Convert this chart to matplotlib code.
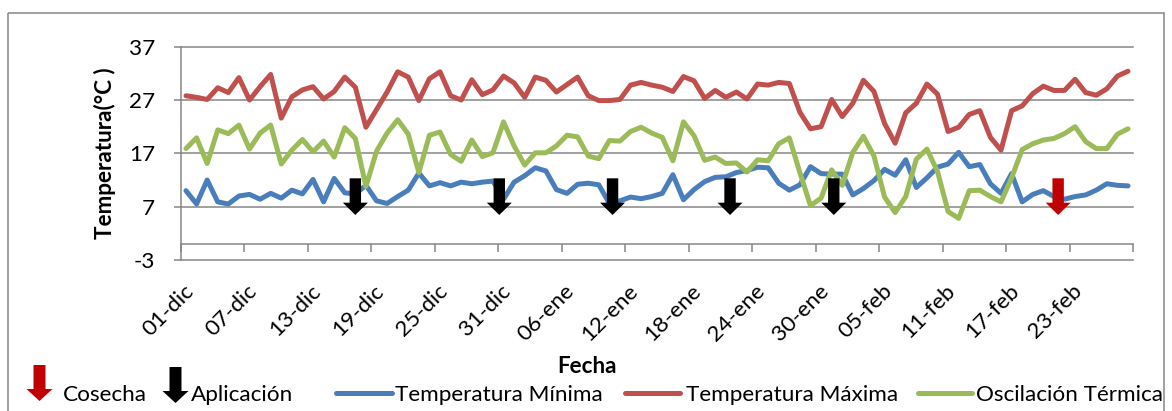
import matplotlib
matplotlib.use('Agg')
import matplotlib.pyplot as plt
from matplotlib.patches import Polygon, Rectangle
from matplotlib.transforms import blended_transform_factory
import pandas as pd

# --- data -------------------------------------------------------------
fechas = pd.date_range('2012-12-01', '2013-02-28', freq='D')
meses = {12: 'dic', 1: 'ene', 2: 'feb'}
etiquetas = [f"{d.day:02d}-{meses[d.month]}" for d in fechas]

temp_minima = [
    10.0, 7.5, 12.0, 7.9, 7.5, 9.0, 9.3, 8.4, 9.5, 8.6,
    10.1, 9.4, 12.1, 7.9, 12.3, 9.6, 9.4, 11.0, 8.1, 7.6,
    8.9, 10.1, 13.3, 10.9, 11.5, 10.9, 11.6, 11.3, 11.6, 11.8,
    8.4, 11.6, 12.8, 14.3, 13.7, 10.2, 9.5, 11.2, 11.4, 11.1,
    7.6, 8.1, 8.8, 8.5, 8.9, 9.5, 13.0, 8.3, 10.2, 11.7,
    12.5, 12.6, 13.4, 13.8, 14.4, 14.3, 11.4, 10.1, 11.1, 14.5,
    13.2, 13.1, 13.1, 9.2, 10.4, 11.9, 14.0, 12.9, 15.8, 10.6,
    12.4, 14.4, 15.0, 17.2, 14.5, 14.9, 11.3, 9.5, 13.2, 7.9,
    9.3, 10.0, 8.9, 8.4, 8.9, 9.2, 10.1, 11.3, 11.0, 10.9,
]

temp_maxima = [
    27.8, 27.5, 27.1, 29.3, 28.4, 31.2, 27.0, 29.5, 31.8, 23.6,
    27.6, 28.9, 29.5, 27.2, 28.6, 31.3, 29.4, 21.9, 25.2, 28.5,
    32.3, 31.3, 26.9, 31.0, 32.3, 27.8, 27.0, 30.8, 28.0, 28.9,
    31.5, 30.2, 27.5, 31.3, 30.7, 28.5, 29.9, 31.3, 27.8, 26.9,
    26.9, 27.1, 29.8, 30.3, 29.8, 29.4, 28.6, 31.4, 30.6, 27.3,
    28.8, 27.5, 28.5, 27.2, 30.0, 29.8, 30.3, 30.1, 24.7, 21.6,
    22.0, 27.1, 23.9, 26.4, 30.7, 28.6, 22.6, 18.9, 24.6, 26.4,
    30.0, 28.1, 21.1, 21.9, 24.3, 25.0, 20.0, 17.6, 25.0, 25.9,
    28.2, 29.6, 28.8, 28.8, 30.9, 28.4, 27.9, 29.1, 31.5, 32.4,
]

oscilacion = [
    17.9, 19.9, 15.1, 21.4, 20.7, 22.3, 17.8, 20.8, 22.3, 15.0,
    17.6, 19.6, 17.3, 19.3, 16.3, 21.8, 19.8, 10.8, 17.4, 20.8,
    23.3, 20.6, 13.4, 20.4, 21.0, 16.8, 15.5, 19.5, 16.4, 17.1,
    22.9, 18.4, 14.8, 17.1, 17.1, 18.4, 20.4, 20.1, 16.5, 16.0,
    19.4, 19.3, 21.1, 21.9, 20.8, 20.0, 15.6, 22.9, 20.3, 15.7,
    16.3, 15.1, 15.2, 13.5, 15.8, 15.6, 18.8, 19.9, 13.4, 7.2,
    8.6, 13.9, 11.0, 17.2, 20.2, 16.5, 8.8, 5.9, 8.9, 15.9,
    17.8, 13.6, 6.1, 4.8, 10.0, 10.1, 8.9, 7.9, 12.4, 17.7,
    18.8, 19.5, 19.8, 20.7, 22.0, 19.2, 17.9, 17.9, 20.6, 21.6,
]

# day positions (index from 01-dic) where the events are marked
dias_aplicacion = [16.0, 29.6, 40.3, 51.4, 61.2]
dias_cosecha = [82.4]

# --- styles -----------------------------------------------------------
W, H = 1172, 411
GRAY = '#868686'
AZUL, ROJO, VERDE = '#4A7EBB', '#C0504D', '#9BBB59'
ROJO_FLECHA = '#C00000'
FS = 16.2
LW = 3.6

plt.rcParams['font.family'] = ['Lato', 'DejaVu Sans']
plt.rcParams['axes.unicode_minus'] = False

fig = plt.figure(figsize=(W / 100, H / 100), dpi=100)


def px_box(x0, y0, x1, y1):
    return [x0 / W, 1 - y1 / H, (x1 - x0) / W, (y1 - y0) / H]


ax = fig.add_axes(px_box(180.7, 46.7, 1133.3, 260))
x = list(range(len(fechas)))
series = [(temp_minima, AZUL, 'Temperatura Mínima'),
          (temp_maxima, ROJO, 'Temperatura Máxima'),
          (oscilacion, VERDE, 'Oscilación Térmica')]
for vals, col, _ in series:
    ax.plot(x, vals, color=col, lw=LW, solid_joinstyle='round',
            solid_capstyle='round', zorder=3)

ax.set_xlim(-0.5, len(fechas) - 0.5)
ax.set_ylim(-3, 37)
yt = list(range(-3, 38, 10))
ax.set_yticks(yt)
for v in yt:
    ax.axhline(v, color=GRAY, lw=1.1, zorder=1, clip_on=False)

for s in ['top', 'right']:
    ax.spines[s].set_visible(False)
ax.spines['bottom'].set_position(('data', 0))
for s in ['bottom', 'left']:
    ax.spines[s].set_color(GRAY)
    ax.spines[s].set_linewidth(1.1)

ax.set_xticks([k - 0.5 for k in range(0, len(fechas) + 1, 6)])
ax.tick_params(axis='x', length=5.5, width=1.1, color=GRAY,
               labelbottom=False, direction='out')
ax.tick_params(axis='y', length=5.3, width=1.1, color=GRAY, pad=13.2,
               labelsize=FS, labelcolor='black')

# rotated date labels every 6 days
trans = blended_transform_factory(ax.transData, fig.transFigure)
for i in range(0, len(fechas), 6):
    ax.text(i + 0.4, 1 - 288 / H, etiquetas[i], transform=trans,
            rotation=45, ha='right', va='center', rotation_mode='anchor',
            fontsize=FS, clip_on=False)


def flecha(a, cx, top, neck, tip, hw, hh, color, **kw):
    pts = [(cx - hw, top), (cx + hw, top), (cx + hw, neck), (cx + hh, neck),
           (cx, tip), (cx - hh, neck), (cx - hw, neck)]
    a.add_patch(Polygon(pts, closed=True, facecolor=color, edgecolor='none',
                        zorder=5, **kw))


day_px = 952.6 / len(fechas)
hw_d, hh_d = 5.7 / day_px, 12.5 / day_px
for d in dias_aplicacion:
    flecha(ax, d, 12.32, 7.75, 5.44, hw_d, hh_d, 'black', clip_on=False)
for d in dias_cosecha:
    flecha(ax, d, 12.32, 7.75, 5.44, hw_d, hh_d, ROJO_FLECHA, clip_on=False)

# --- overlay in pixel coordinates: titles, legend, border --------------
ov = fig.add_axes([0, 0, 1, 1])
ov.set_xlim(0, W)
ov.set_ylim(H, 0)
ov.axis('off')
ov.patch.set_visible(False)

ov.add_patch(Rectangle((8, 12.7), 1156, 420, fill=False, edgecolor=GRAY,
                       lw=1.1, clip_on=False))

ov.text(105, 153.3, 'Temperatura(°C )', rotation=90, ha='center',
        va='center', fontsize=FS, fontweight='bold')
ov.text(587, 373, 'Fecha', ha='center', va='baseline', fontsize=FS,
        fontweight='bold')

flecha(ov, 39.5, 365, 389, 401, 6, 13, ROJO_FLECHA)
ov.text(63, 401, 'Cosecha', ha='left', va='baseline', fontsize=FS)
flecha(ov, 175.5, 367, 391, 403, 6, 13, 'black')
ov.text(191, 401, 'Aplicación', ha='left', va='baseline', fontsize=FS)

legend_pos = [(336, 392, 395), (625, 680, 686), (918, 972, 976)]
for (vals, col, nombre), (x0, x1, xt) in zip(series, legend_pos):
    ov.plot([x0, x1], [393, 393], color=col, lw=LW, solid_capstyle='round')
    ov.text(xt, 401, nombre, ha='left', va='baseline', fontsize=FS)

fig.savefig('out.png', dpi=100)
